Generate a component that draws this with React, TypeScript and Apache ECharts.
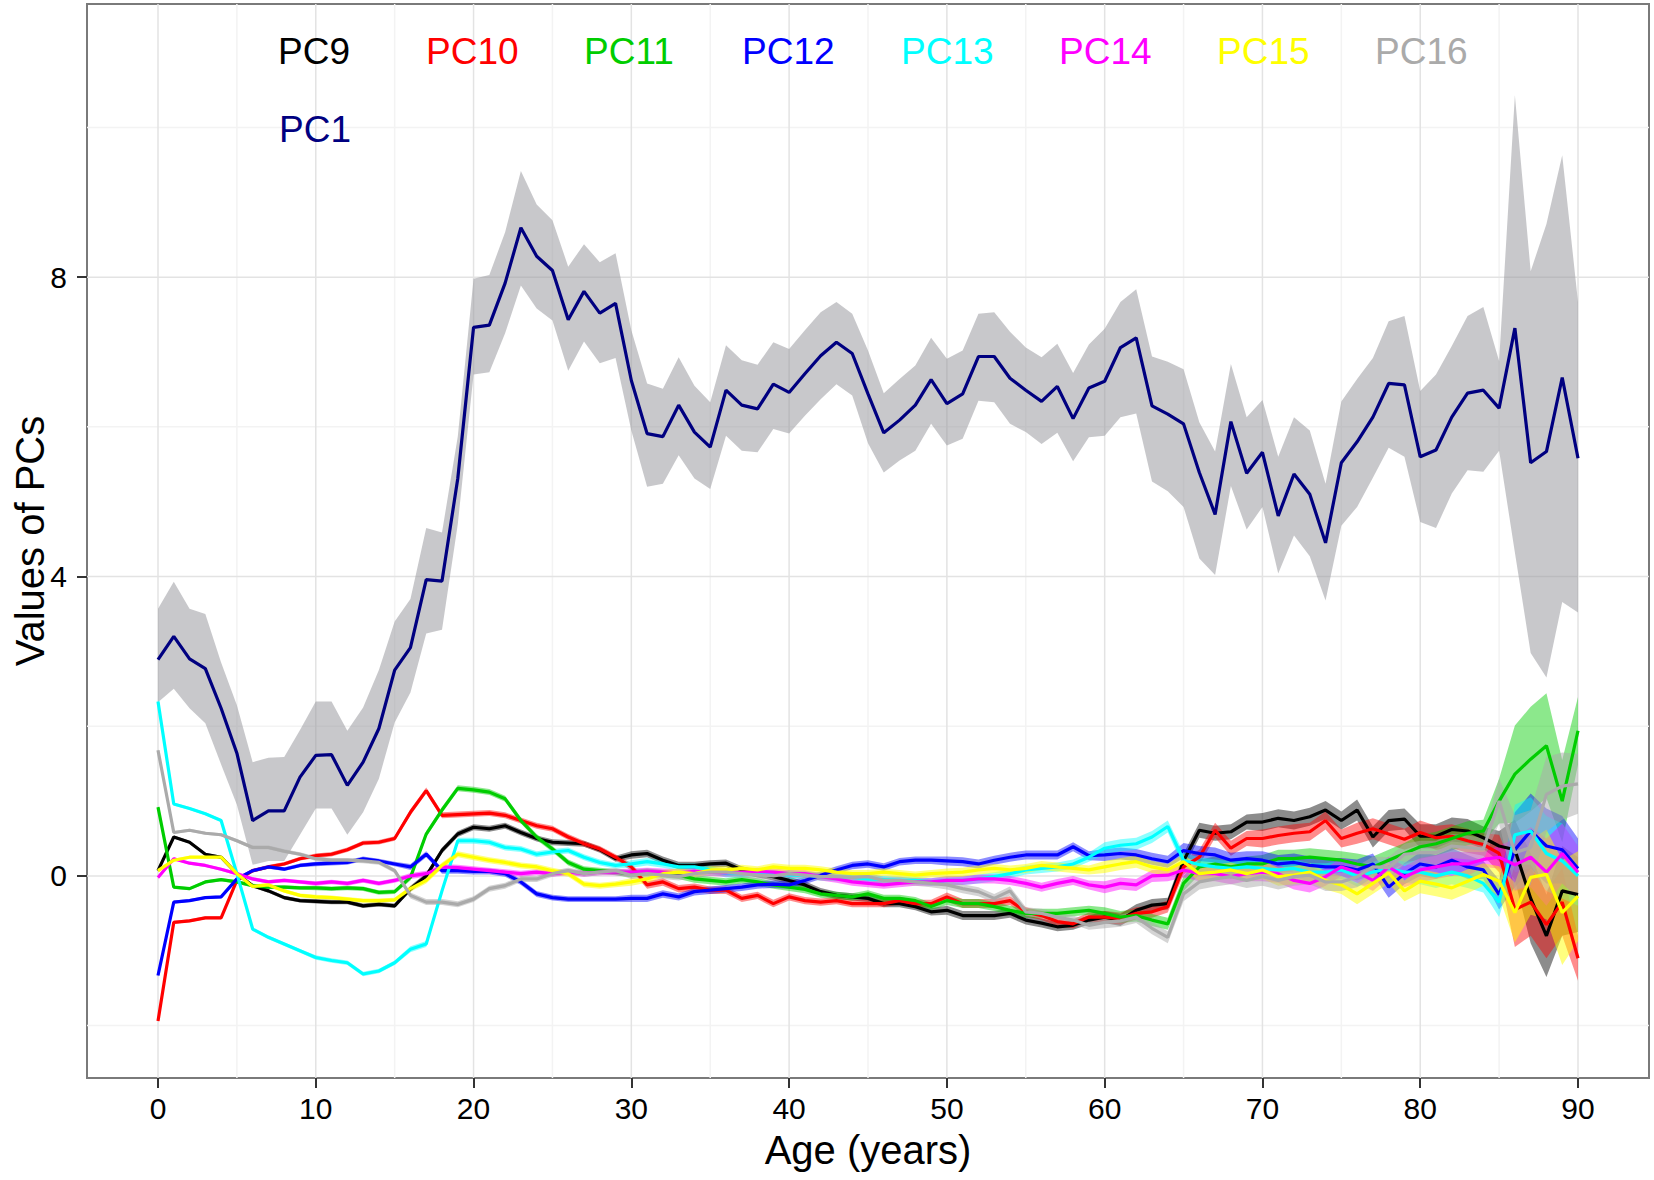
import React, { useRef, useEffect } from 'react'
import * as echarts from 'echarts'

// ages 0..90
const ages = [
  0, 1, 2, 3, 4, 5, 6, 7, 8, 9, 10, 11, 12, 13, 14, 15, 16, 17, 18, 19, 20, 21, 22, 23, 24, 25, 26, 27, 28, 29,
  30, 31, 32, 33, 34, 35, 36, 37, 38, 39, 40, 41, 42, 43, 44, 45, 46, 47, 48, 49, 50, 51, 52, 53, 54, 55, 56, 57, 58, 59,
  60, 61, 62, 63, 64, 65, 66, 67, 68, 69, 70, 71, 72, 73, 74, 75, 76, 77, 78, 79, 80, 81, 82, 83, 84, 85, 86, 87, 88, 89, 90,
]

const xTicks = [0, 10, 20, 30, 40, 50, 60, 70, 80, 90]
const xMinor = [5, 15, 25, 35, 45, 55, 65, 75, 85]
const yTicks = [0, 4, 8]
const yMinor = [-2, 2, 6, 10]

// PC1 mean and its ribbon
const pc1 = [
  2.89, 3.2, 2.9, 2.77, 2.24, 1.64, 0.74, 0.87, 0.87, 1.32, 1.61, 1.62, 1.21, 1.52, 1.97, 2.75, 3.05, 3.96, 3.94, 5.31,
  7.33, 7.36, 7.92, 8.66, 8.28, 8.09, 7.43, 7.81, 7.52, 7.65, 6.62, 5.91, 5.87, 6.29, 5.93, 5.73, 6.49, 6.29, 6.24, 6.57,
  6.46, 6.71, 6.95, 7.13, 6.98, 6.44, 5.92, 6.09, 6.29, 6.63, 6.31, 6.44, 6.94, 6.94, 6.65, 6.49, 6.34, 6.54, 6.11, 6.52,
  6.61, 7.06, 7.19, 6.28, 6.17, 6.04, 5.39, 4.83, 6.07, 5.38, 5.66, 4.81, 5.37, 5.1, 4.45, 5.52, 5.8, 6.13, 6.58, 6.56,
  5.6, 5.69, 6.13, 6.45, 6.49, 6.25, 7.32, 5.52, 5.67, 6.66, 5.58,
]
const pc1Upper = [
  3.57, 3.93, 3.57, 3.5, 2.85, 2.28, 1.52, 1.58, 1.59, 1.95, 2.33, 2.33, 1.94, 2.25, 2.75, 3.4, 3.7, 4.65, 4.59, 5.87,
  7.98, 8.03, 8.6, 9.42, 8.97, 8.76, 8.14, 8.44, 8.2, 8.32, 7.29, 6.58, 6.51, 6.93, 6.55, 6.33, 7.09, 6.89, 6.83, 7.13,
  7.04, 7.29, 7.53, 7.67, 7.51, 7.02, 6.45, 6.64, 6.82, 7.19, 6.91, 7.02, 7.51, 7.53, 7.27, 7.06, 6.93, 7.11, 6.72, 7.1,
  7.31, 7.67, 7.84, 6.94, 6.87, 6.77, 6.06, 5.67, 6.84, 6.13, 6.36, 5.6, 6.13, 5.95, 5.24, 6.34, 6.64, 6.92, 7.41, 7.48,
  6.48, 6.7, 7.08, 7.48, 7.6, 6.88, 10.43, 8.08, 8.71, 9.63, 7.67,
]
const pc1Lower = [
  2.32, 2.5, 2.24, 2.04, 1.49, 0.95, 0.15, 0.2, 0.2, 0.55, 0.9, 0.9, 0.55, 0.85, 1.3, 2.05, 2.45, 3.24, 3.29, 4.7,
  6.7, 6.73, 7.25, 7.89, 7.58, 7.42, 6.75, 7.14, 6.85, 6.92, 5.95, 5.2, 5.24, 5.62, 5.31, 5.17, 5.88, 5.68, 5.66, 5.97,
  5.91, 6.15, 6.37, 6.57, 6.42, 5.78, 5.39, 5.55, 5.68, 6.04, 5.75, 5.84, 6.35, 6.33, 6.04, 5.93, 5.77, 5.92, 5.54, 5.86,
  5.88, 6.13, 6.18, 5.27, 5.14, 4.93, 4.24, 4.02, 5.21, 4.63, 4.93, 4.04, 4.55, 4.27, 3.68, 4.68, 4.93, 5.32, 5.72, 5.6,
  4.73, 4.65, 5.11, 5.42, 5.4, 5.68, 4.32, 2.98, 2.65, 3.66, 3.52,
]

const pc9 = [
  0.07, 0.52, 0.45, 0.29, 0.25, 0.03, -0.13, -0.2, -0.29, -0.33, -0.34, -0.35, -0.35, -0.4, -0.38, -0.4, -0.17, 0.0, 0.34, 0.56,
  0.65, 0.63, 0.67, 0.58, 0.5, 0.45, 0.44, 0.43, 0.35, 0.23, 0.28, 0.3, 0.21, 0.14, 0.14, 0.16, 0.17, 0.08, 0.03, -0.01,
  -0.06, -0.12, -0.21, -0.26, -0.28, -0.3, -0.37, -0.37, -0.41, -0.48, -0.46, -0.53, -0.53, -0.53, -0.5, -0.59, -0.63, -0.68, -0.66, -0.59,
  -0.55, -0.59, -0.46, -0.39, -0.37, 0.2, 0.61, 0.57, 0.59, 0.72, 0.72, 0.77, 0.74, 0.79, 0.88, 0.74, 0.88, 0.52, 0.74, 0.76,
  0.53, 0.53, 0.62, 0.6, 0.51, 0.4, 0.35, -0.3, -0.8, -0.2, -0.25,
]
const pc10 = [
  -1.94, -0.62, -0.6, -0.56, -0.56, -0.06, 0.07, 0.12, 0.16, 0.23, 0.27, 0.29, 0.35, 0.44, 0.45, 0.5, 0.85, 1.14, 0.81, 0.82,
  0.83, 0.84, 0.81, 0.74, 0.67, 0.63, 0.52, 0.43, 0.36, 0.25, 0.12, -0.12, -0.08, -0.17, -0.15, -0.19, -0.19, -0.3, -0.26, -0.37,
  -0.28, -0.33, -0.35, -0.33, -0.37, -0.37, -0.37, -0.33, -0.37, -0.37, -0.28, -0.37, -0.37, -0.37, -0.33, -0.48, -0.53, -0.61, -0.64, -0.55,
  -0.55, -0.57, -0.5, -0.48, -0.41, 0.12, 0.25, 0.61, 0.37, 0.5, 0.5, 0.54, 0.57, 0.59, 0.74, 0.5, 0.57, 0.63, 0.56, 0.49,
  0.58, 0.51, 0.53, 0.47, 0.42, 0.3, -0.45, -0.35, -0.65, -0.35, -1.1,
]
const pc11 = [
  0.92, -0.15, -0.17, -0.08, -0.05, -0.08, -0.13, -0.15, -0.15, -0.16, -0.16, -0.17, -0.16, -0.17, -0.22, -0.21, -0.02, 0.56, 0.88, 1.17,
  1.15, 1.12, 1.03, 0.74, 0.52, 0.36, 0.18, 0.09, 0.07, 0.05, 0.03, 0.05, 0.03, 0.01, -0.04, -0.06, -0.08, -0.05, -0.08, -0.12,
  -0.15, -0.18, -0.24, -0.26, -0.28, -0.24, -0.3, -0.3, -0.33, -0.41, -0.33, -0.37, -0.37, -0.41, -0.46, -0.5, -0.5, -0.5, -0.48, -0.46,
  -0.5, -0.55, -0.53, -0.59, -0.64, -0.1, 0.12, 0.16, 0.12, 0.16, 0.16, 0.23, 0.23, 0.25, 0.23, 0.21, 0.16, 0.12, 0.21, 0.3,
  0.39, 0.43, 0.5, 0.57, 0.6, 1.0, 1.36, 1.56, 1.74, 1.0, 1.94,
]
const pc12 = [
  -1.33, -0.35, -0.33, -0.29, -0.28, -0.04, 0.07, 0.12, 0.09, 0.14, 0.16, 0.17, 0.18, 0.23, 0.2, 0.16, 0.12, 0.29, 0.07, 0.07,
  0.06, 0.06, 0.03, -0.08, -0.24, -0.29, -0.31, -0.31, -0.31, -0.31, -0.3, -0.3, -0.24, -0.28, -0.21, -0.19, -0.17, -0.15, -0.12, -0.11,
  -0.12, -0.06, 0.01, 0.08, 0.14, 0.16, 0.12, 0.19, 0.21, 0.21, 0.2, 0.19, 0.16, 0.21, 0.25, 0.28, 0.28, 0.28, 0.39, 0.27,
  0.28, 0.3, 0.28, 0.23, 0.19, 0.34, 0.3, 0.28, 0.21, 0.23, 0.21, 0.16, 0.18, 0.14, 0.12, 0.12, 0.08, 0.16, -0.15, 0.03,
  0.16, 0.12, 0.21, 0.12, 0.08, -0.25, 0.35, 0.6, 0.4, 0.35, 0.1,
]
const pc13 = [
  2.33, 0.96, 0.9, 0.83, 0.74, 0.03, -0.71, -0.82, -0.91, -1.0, -1.09, -1.13, -1.16, -1.31, -1.27, -1.16, -0.98, -0.91, -0.2, 0.47,
  0.47, 0.45, 0.38, 0.36, 0.29, 0.32, 0.34, 0.25, 0.18, 0.14, 0.16, 0.19, 0.16, 0.12, 0.12, 0.08, 0.03, 0.03, 0.05, 0.03,
  0.01, 0.01, -0.01, -0.02, -0.02, -0.04, -0.05, -0.06, -0.06, -0.08, -0.06, -0.06, -0.04, -0.01, 0.03, 0.08, 0.1, 0.12, 0.16, 0.25,
  0.37, 0.41, 0.43, 0.52, 0.66, 0.21, 0.15, 0.12, 0.1, 0.12, 0.1, 0.08, 0.1, 0.05, 0.05, 0.08, 0.0, 0.05, 0.1, 0.05,
  0.05, 0.0, 0.05, 0.0, -0.1, -0.35, 0.55, 0.6, 0.3, 0.2, 0.0,
]
const pc14 = [
  -0.02, 0.23, 0.17, 0.14, 0.09, 0.03, -0.04, -0.08, -0.06, -0.08, -0.1, -0.08, -0.1, -0.06, -0.1, -0.06, 0.0, 0.03, 0.12, 0.11,
  0.09, 0.07, 0.05, 0.03, 0.05, 0.03, 0.05, 0.03, 0.05, 0.05, 0.05, 0.06, 0.05, 0.04, 0.06, 0.05, 0.04, 0.05, 0.06, 0.05,
  0.03, 0.03, -0.01, -0.04, -0.08, -0.1, -0.12, -0.1, -0.08, -0.08, -0.06, -0.06, -0.04, -0.04, -0.06, -0.1, -0.15, -0.1, -0.06, -0.12,
  -0.15, -0.1, -0.12, 0.0, 0.01, 0.08, 0.03, 0.03, -0.01, 0.03, 0.05, 0.03, -0.06, -0.1, -0.01, 0.12, 0.05, -0.06, 0.12, -0.01,
  0.08, 0.12, 0.16, 0.16, 0.22, 0.25, 0.15, 0.25, 0.05, 0.3, 0.05,
]
const pc15 = [
  0.07, 0.21, 0.25, 0.25, 0.25, 0.03, -0.14, -0.12, -0.2, -0.26, -0.28, -0.29, -0.31, -0.33, -0.33, -0.32, -0.17, -0.06, 0.14, 0.29,
  0.25, 0.21, 0.18, 0.14, 0.12, 0.07, 0.03, -0.11, -0.13, -0.11, -0.08, -0.04, 0.03, 0.05, 0.03, 0.08, 0.08, 0.1, 0.08, 0.12,
  0.1, 0.1, 0.08, 0.05, 0.03, 0.03, 0.05, 0.03, 0.01, 0.03, 0.04, 0.05, 0.08, 0.1, 0.08, 0.1, 0.14, 0.12, 0.1, 0.08,
  0.12, 0.16, 0.19, 0.12, 0.08, 0.19, 0.03, 0.05, 0.08, 0.03, 0.08, -0.01, 0.01, 0.05, -0.06, -0.12, -0.24, -0.1, 0.04, -0.2,
  -0.07, -0.11, -0.16, -0.07, 0.02, -0.07, -0.49, -0.02, 0.02, -0.49, -0.27,
]
const pc16 = [
  1.68, 0.58, 0.61, 0.57, 0.55, 0.47, 0.38, 0.38, 0.33, 0.29, 0.23, 0.21, 0.21, 0.2, 0.18, 0.07, -0.26, -0.35, -0.35, -0.38,
  -0.31, -0.17, -0.13, -0.04, -0.04, 0.03, 0.07, 0.03, 0.05, 0.07, 0.01, 0.03, 0.01, -0.01, 0.03, 0.05, 0.05, 0.03, 0.01, 0.0,
  0.03, 0.01, -0.01, -0.01, -0.02, -0.01, -0.06, -0.06, -0.08, -0.1, -0.12, -0.17, -0.21, -0.3, -0.2, -0.48, -0.5, -0.55, -0.59, -0.66,
  -0.62, -0.6, -0.55, -0.7, -0.82, -0.24, -0.08, -0.04, -0.01, -0.06, -0.01, -0.06, -0.01, 0.01, -0.08, -0.08, -0.01, 0.12, 0.11, 0.29,
  0.31, 0.31, 0.4, 0.38, 0.36, 1.0, 0.31, 0.38, 1.09, 1.2, 1.23,
]

// ribbon half-widths of the small PCs, ages 0..83 (shared), then ages 84..90 per PC
const smallHalf = [
  0.02, 0.02, 0.02, 0.02, 0.02, 0.025, 0.025, 0.025, 0.025, 0.025, 0.03, 0.03, 0.03, 0.03, 0.03, 0.03,
  0.04, 0.04, 0.04, 0.04, 0.04, 0.04, 0.04, 0.04, 0.04, 0.04, 0.04, 0.04, 0.04, 0.04,
  0.05, 0.05, 0.05, 0.05, 0.05, 0.05, 0.05, 0.05, 0.05, 0.05, 0.05, 0.05, 0.05, 0.05, 0.05, 0.05, 0.05, 0.05, 0.05, 0.05,
  0.06, 0.06, 0.06, 0.06, 0.06, 0.06, 0.06, 0.06, 0.06, 0.06, 0.08, 0.08, 0.08, 0.08, 0.08,
  0.1, 0.1, 0.1, 0.1, 0.1, 0.12, 0.12, 0.12, 0.12, 0.12, 0.12, 0.14, 0.14, 0.14, 0.14, 0.16, 0.16, 0.16, 0.16,
]
const pc9Tail = [0.15, 0.2, 0.4, 0.6, 0.55, 0.6, 0.5]
const pc10Tail = [0.15, 0.25, 0.5, 0.45, 0.45, 0.45, 0.3]
const pc11Tail = [0.15, 0.3, 0.65, 0.7, 0.7, 0.55, 0.45]
const pc12Tail = [0.12, 0.2, 0.5, 0.5, 0.5, 0.45, 0.4]
const pc13Tail = [0.12, 0.2, 0.4, 0.45, 0.5, 0.5, 0.4]
const pc14Tail = [0.1, 0.15, 0.35, 0.4, 0.45, 0.4, 0.35]
const pc15Tail = [0.15, 0.2, 0.4, 0.5, 0.6, 0.7, 0.6]
const pc16Tail = [0.15, 0.3, 0.5, 0.5, 0.5, 0.45, 0.4]

const fontFamily = '"Liberation Sans", Arial, Helvetica, sans-serif'
const X_MIN = -4.5
const X_MAX = 94.5
const Y_MIN = -2.7
const Y_MAX = 11.65

const small = [
  { name: 'PC9', values: pc9, tail: pc9Tail, color: '#000000', fill: 'rgba(0,0,0,0.45)' },
  { name: 'PC10', values: pc10, tail: pc10Tail, color: '#ff0000', fill: 'rgba(255,0,0,0.45)' },
  { name: 'PC11', values: pc11, tail: pc11Tail, color: '#00cd00', fill: 'rgba(0,205,0,0.45)' },
  { name: 'PC12', values: pc12, tail: pc12Tail, color: '#0000ff', fill: 'rgba(0,0,255,0.45)' },
  { name: 'PC13', values: pc13, tail: pc13Tail, color: '#00ffff', fill: 'rgba(0,255,255,0.45)' },
  { name: 'PC14', values: pc14, tail: pc14Tail, color: '#ff00ff', fill: 'rgba(255,0,255,0.45)' },
  { name: 'PC15', values: pc15, tail: pc15Tail, color: '#ffff00', fill: 'rgba(255,255,0,0.5)' },
  { name: 'PC16', values: pc16, tail: pc16Tail, color: '#aaaaaa', fill: 'rgba(170,170,170,0.5)' },
]
const pc1Color = '#000080'

// legend label placement (px)
const legendLayout = [
  ['PC9', 278, 51], ['PC10', 426, 51], ['PC11', 584, 51], ['PC12', 742, 51],
  ['PC13', 901, 51], ['PC14', 1059, 51], ['PC15', 1217, 51], ['PC16', 1375, 51],
  ['PC1', 279, 129],
]

function ribbon(name, lo, hi, fill) {
  return {
    type: 'custom',
    name,
    silent: true,
    z: 2,
    data: [[0, 0]],
    renderItem: (params, api) => {
      const top = ages.map((a, i) => api.coord([a, hi[i]]))
      const bottom = ages.map((a, i) => api.coord([a, lo[i]])).reverse()
      return { type: 'polygon', shape: { points: top.concat(bottom) }, style: { fill } }
    },
  }
}

function gridLines() {
  return {
    type: 'custom',
    name: 'grid',
    silent: true,
    z: 1,
    data: [[0, 0]],
    renderItem: (params, api) => {
      const children = []
      const vline = (v, stroke) => {
        const a = api.coord([v, Y_MIN])
        const b = api.coord([v, Y_MAX])
        children.push({ type: 'line', shape: { x1: a[0], y1: a[1], x2: b[0], y2: b[1] }, style: { stroke, lineWidth: 1.5 } })
      }
      const hline = (v, stroke) => {
        const a = api.coord([X_MIN, v])
        const b = api.coord([X_MAX, v])
        children.push({ type: 'line', shape: { x1: a[0], y1: a[1], x2: b[0], y2: b[1] }, style: { stroke, lineWidth: 1.5 } })
      }
      xMinor.forEach((v) => vline(v, '#f3f3f3'))
      yMinor.forEach((v) => hline(v, '#f3f3f3'))
      xTicks.forEach((v) => vline(v, '#e3e3e3'))
      yTicks.forEach((v) => hline(v, '#e3e3e3'))
      return { type: 'group', children }
    },
  }
}

function App() {
  const chartRef = useRef(null)

  useEffect(() => {
    const chart = echarts.init(chartRef.current, null, { renderer: 'svg' })

    const colorOf = {}
    small.forEach((s) => (colorOf[s.name] = s.color))
    colorOf['PC1'] = pc1Color

    const series = [gridLines(), ribbon('PC1 band', pc1Lower, pc1Upper, 'rgba(150,150,156,0.52)')]
    small.forEach((s) => {
      const half = smallHalf.concat(s.tail)
      const lo = s.values.map((v, i) => v - half[i])
      const hi = s.values.map((v, i) => v + half[i])
      series.push(ribbon(s.name + ' band', lo, hi, s.fill))
    })
    small.forEach((s) => {
      series.push({
        type: 'line',
        name: s.name,
        z: 3,
        silent: true,
        showSymbol: false,
        data: ages.map((a, i) => [a, s.values[i]]),
        lineStyle: { color: s.color, width: 3.2 },
        itemStyle: { color: s.color },
      })
    })
    series.push({
      type: 'line',
      name: 'PC1',
      z: 4,
      silent: true,
      showSymbol: false,
      data: ages.map((a, i) => [a, pc1[i]]),
      lineStyle: { color: pc1Color, width: 3.2 },
      itemStyle: { color: pc1Color },
    })

    const option = {
      animation: false,
      backgroundColor: '#ffffff',
      textStyle: { fontFamily },
      legend: legendLayout.map(([name, x, y]) => ({
        data: [{ name, textStyle: { color: colorOf[name] } }],
        left: x - 6,
        top: y - 20,
        padding: 0,
        itemWidth: 1,
        itemHeight: 40,
        icon: 'rect',
        itemStyle: { opacity: 0 },
        lineStyle: { opacity: 0 },
        selectedMode: false,
        textStyle: { fontSize: 37, lineHeight: 40, fontFamily },
      })),
      grid: {
        left: 87,
        right: 5,
        top: 4,
        bottom: 102,
        show: true,
        borderColor: '#7a7a7a',
        borderWidth: 2,
        backgroundColor: 'transparent',
        outerBoundsMode: 'none',
      },
      xAxis: {
        type: 'value',
        min: X_MIN,
        max: X_MAX,
        name: 'Age (years)',
        nameLocation: 'middle',
        nameGap: 52,
        nameMoveOverlap: false,
        nameTextStyle: { fontSize: 40, color: '#000', fontFamily },
        axisLine: { show: false, onZero: false },
        axisTick: { show: true, length: 10, customValues: xTicks, lineStyle: { color: '#333', width: 2 } },
        axisLabel: { customValues: xTicks, fontSize: 30, color: '#000', margin: 15, fontFamily },
        splitLine: { show: false },
        minorSplitLine: { show: false },
      },
      yAxis: {
        type: 'value',
        min: Y_MIN,
        max: Y_MAX,
        name: 'Values of PCs',
        nameLocation: 'middle',
        nameRotate: 90,
        nameGap: 37,
        nameMoveOverlap: false,
        nameTextStyle: { fontSize: 40, color: '#000', fontFamily },
        axisLine: { show: false, onZero: false },
        axisTick: { show: true, length: 10, customValues: yTicks, lineStyle: { color: '#333', width: 2 } },
        axisLabel: { customValues: yTicks, fontSize: 30, color: '#000', margin: 20, fontFamily },
        splitLine: { show: false },
        minorSplitLine: { show: false },
      },
      series,
    }

    chart.setOption(option)

    return () => {
      chart.dispose()
    }
  }, [])

  return (
    <div
      ref={chartRef}
      style={{ position: 'fixed', left: 0, top: 0, width: 1654, height: 1180, background: '#fff' }}
    ></div>
  )
}

export default App
